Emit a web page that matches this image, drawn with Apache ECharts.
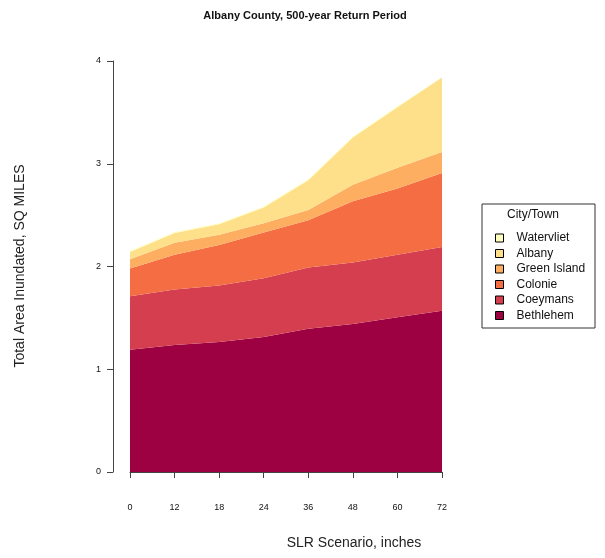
<!DOCTYPE html>
<html>
<head>
<meta charset="utf-8">
<script src="https://cdn.jsdelivr.net/npm/echarts@6/dist/echarts.min.js"></script>
<style>
  html, body { margin: 0; padding: 0; background: #fff; }
  #chart { width: 605px; height: 558px; }
</style>
</head>
<body>
<div id="chart"></div>
<script>
// SLR scenarios (inches) on the x axis
const scenarios = ['0', '12', '18', '24', '36', '48', '60', '72'];

// Area inundated per town, square miles (stacked bottom to top)
const bethlehem  = [1.19, 1.235, 1.265, 1.315, 1.395, 1.44, 1.505, 1.57];
const coeymans   = [0.52, 0.54, 0.55, 0.57, 0.595, 0.60, 0.61, 0.62];
const colonie    = [0.27, 0.34, 0.395, 0.445, 0.46, 0.595, 0.645, 0.72];
const greenIsland = [0.09, 0.115, 0.10, 0.09, 0.10, 0.16, 0.20, 0.205];
const albany     = [0.07, 0.095, 0.10, 0.155, 0.29, 0.46, 0.59, 0.725];
const watervliet = [0.01, 0.01, 0.01, 0.01, 0.01, 0.01, 0.01, 0.01];

const yTicks = [0, 1, 2, 3, 4];

const towns = [
  { name: 'Bethlehem',    data: bethlehem,   color: '#9E0142' },
  { name: 'Coeymans',     data: coeymans,    color: '#D53E4F' },
  { name: 'Colonie',      data: colonie,     color: '#F46D43' },
  { name: 'Green Island', data: greenIsland, color: '#FDAE61' },
  { name: 'Albany',       data: albany,      color: '#FEE08B' },
  { name: 'Watervliet',   data: watervliet,  color: '#FFFFBF' }
];

const axisColor = '#444';
const font = 'Liberation Sans, Arial, sans-serif';

const chart = echarts.init(document.getElementById('chart'), null, { renderer: 'canvas' });

chart.setOption({
  animation: false,
  backgroundColor: '#fff',
  grid: { left: 130, right: 163, top: 61, bottom: 86, containLabel: false },
  xAxis: {
    type: 'category',
    data: scenarios,
    boundaryGap: false,
    offset: 18,
    axisLine: { show: true, lineStyle: { color: axisColor, width: 1 } },
    axisTick: { show: true, length: 6, alignWithLabel: true, lineStyle: { color: axisColor } },
    axisLabel: { color: '#111', fontSize: 9, fontFamily: font, margin: 13, interval: 0 },
    splitLine: { show: false }
  },
  yAxis: {
    type: 'value',
    min: yTicks[0],
    max: yTicks[yTicks.length - 1],
    interval: 1,
    offset: 17,
    axisLine: { show: true, lineStyle: { color: axisColor, width: 1 } },
    axisTick: { show: true, length: 6, lineStyle: { color: axisColor } },
    axisLabel: { color: '#111', fontSize: 9, fontFamily: font, margin: 12 },
    splitLine: { show: false }
  },
  legend: {
    data: towns.map(t => t.name).reverse(),
    orient: 'vertical',
    left: 490,
    top: 226,
    icon: 'rect',
    itemWidth: 8,
    itemHeight: 8,
    itemGap: 1.5,
    selectedMode: false,
    itemStyle: { borderColor: '#000', borderWidth: 1 },
    textStyle: { color: '#111', fontSize: 12, fontFamily: font, padding: [0, 0, 0, 8], lineHeight: 14 }
  },
  graphic: [
    {
      type: 'rect',
      shape: { x: 482, y: 204, width: 113, height: 124 },
      style: { fill: 'none', stroke: '#333', lineWidth: 1 }
    },
    {
      type: 'text',
      x: 533, y: 215,
      style: { text: 'City/Town', fontSize: 12, fontFamily: font, fill: '#111', textAlign: 'center', textVerticalAlign: 'middle' }
    },
    {
      type: 'text',
      x: 305, y: 16,
      style: { text: 'Albany County, 500-year Return Period', fontSize: 11, fontWeight: 'bold', fontFamily: 'Liberation Sans Narrow, Arial Narrow, ' + font, fill: '#111', textAlign: 'center', textVerticalAlign: 'middle' }
    },
    {
      type: 'text',
      x: 354, y: 543,
      style: { text: 'SLR Scenario, inches', fontSize: 14, fontFamily: font, fill: '#222', textAlign: 'center', textVerticalAlign: 'middle' }
    },
    {
      type: 'text',
      x: 20, y: 266,
      rotation: Math.PI / 2,
      style: { text: 'Total Area Inundated, SQ MILES', fontSize: 14, fontFamily: font, fill: '#222', textAlign: 'center', textVerticalAlign: 'middle' }
    }
  ],
  series: towns.map(t => ({
    name: t.name,
    type: 'line',
    stack: 'area',
    data: t.data,
    symbol: 'none',
    smooth: false,
    color: t.color,
    lineStyle: { width: 0, color: t.color },
    areaStyle: { color: t.color, opacity: 1 },
    emphasis: { disabled: true }
  }))
});
</script>
</body>
</html>
